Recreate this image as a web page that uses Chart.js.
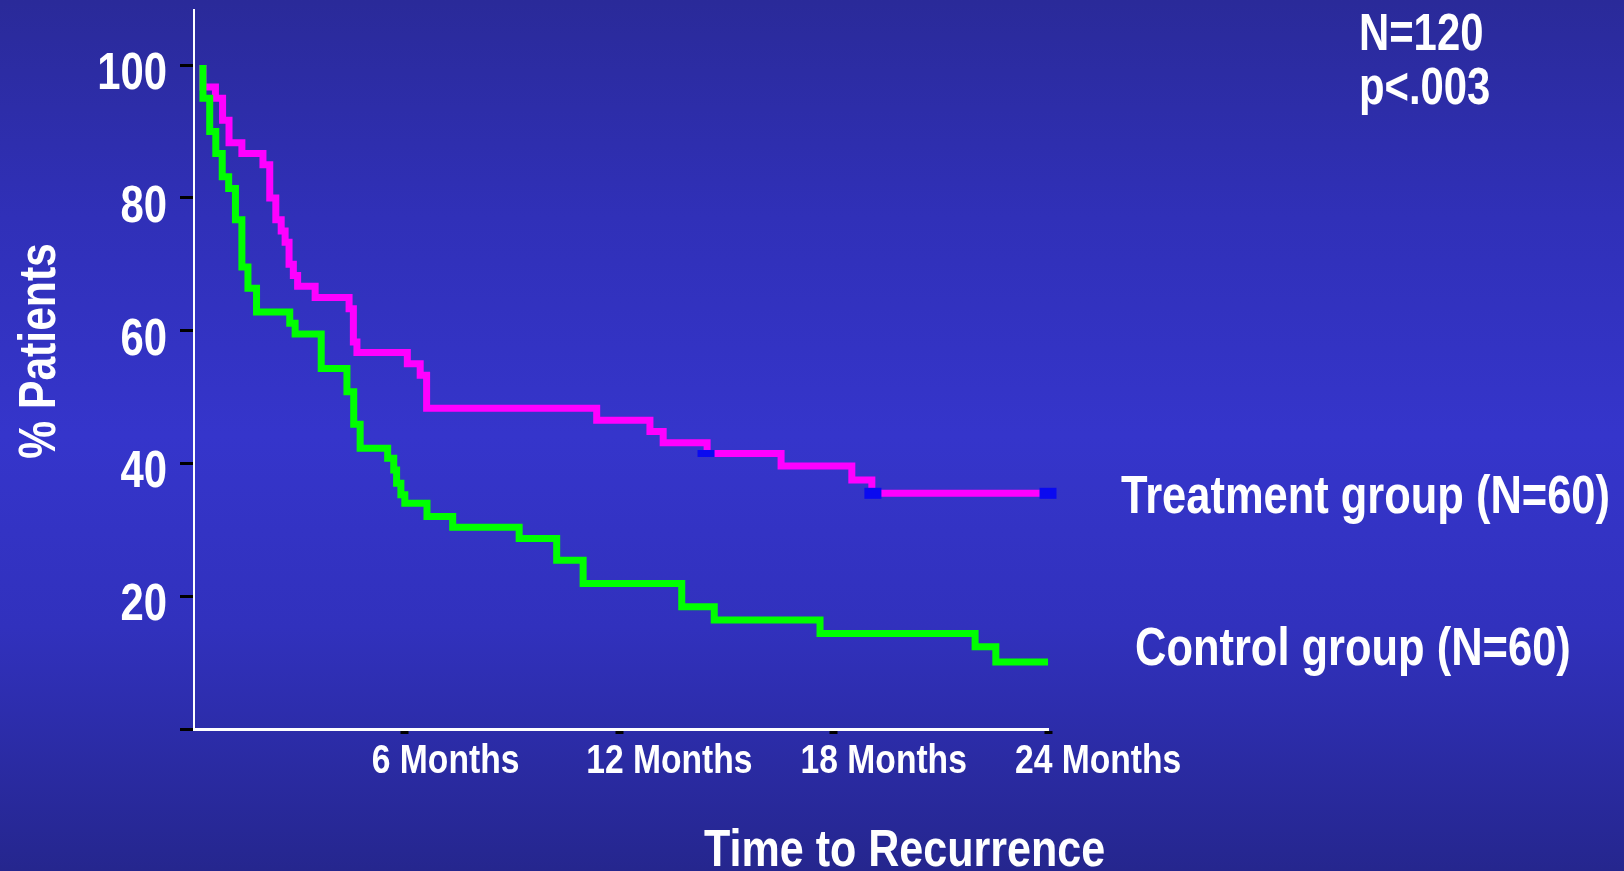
<!DOCTYPE html>
<html>
<head>
<meta charset="utf-8">
<script src="https://cdn.jsdelivr.net/npm/chart.js@4/dist/chart.umd.min.js"></script>
<style>
  html, body { margin: 0; padding: 0; overflow: hidden; }
  body {
    width: 1624px; height: 871px;
    background: linear-gradient(to bottom, #2a2a99 0%, #3030b8 25%, #3535cb 50%, #3131bd 72%, #25268e 100%);
  }
  #wrap { position: relative; width: 1624px; height: 871px; }
</style>
</head>
<body>
<div id="wrap"><canvas id="km"></canvas></div>
<script>
// months after start / % of patients still free of recurrence
const controlMonths = [0.35, 0.35, 0.54, 0.71, 0.89, 1.07, 1.26, 1.44, 1.61, 1.85, 2.78, 2.93, 3.66, 4.38, 4.57, 4.75, 5.52, 5.69, 5.77, 5.89, 6.0, 6.62, 7.34, 9.20, 10.25, 10.99, 13.75, 14.66, 17.62, 21.96, 22.54, 24.0];
const controlPct = [100, 95.0, 90.0, 86.7, 83.2, 81.4, 76.7, 69.6, 66.4, 62.8, 61.1, 59.5, 54.3, 50.8, 45.9, 42.3, 40.8, 39.0, 37.0, 35.3, 34.0, 32.0, 30.4, 28.7, 25.4, 21.9, 18.4, 16.4, 14.4, 12.4, 10.1, 10.1];

const treatMonths = [0.35, 0.35, 0.70, 0.90, 1.08, 1.44, 2.03, 2.22, 2.39, 2.54, 2.65, 2.76, 2.88, 3.00, 3.49, 4.44, 4.56, 4.66, 6.07, 6.43, 6.61, 11.37, 12.86, 13.23, 14.46, 16.53, 18.51, 19.07, 24.0];
const treatPct = [100, 96.7, 95.0, 91.7, 88.3, 86.7, 85.0, 80.0, 76.7, 75.0, 73.3, 70.0, 68.3, 66.7, 65.0, 63.3, 58.3, 56.7, 55.0, 53.3, 48.3, 46.5, 44.8, 43.1, 41.5, 39.6, 37.5, 35.5, 35.5];

// censored observations in the treatment group
const censorMonths = [14.43, 19.1, 24.0];
const censorPct = [41.5, 35.5, 35.5];

const xTickValues = [6, 12, 18, 24];
const xTickLabels = ['6 Months', '12 Months', '18 Months', '24 Months'];
const yTickValues = [0, 20, 40, 60, 80, 100];
const yTickLabels = ['', '20', '40', '60', '80', '100'];

const xTitle = 'Time to Recurrence';
const yTitle = '% Patients';
const statLines = ['N=120', 'p<.003'];
const treatLabel = 'Treatment group (N=60)';
const controlLabel = 'Control group (N=60)';

// no narrow face installed, so squeeze Liberation Sans Bold like Arial Narrow
const FONT = '"Liberation Sans", Arial, sans-serif';
const NARROW = 0.82;

const toPoints = (xs, ys) => xs.map((x, i) => ({ x: x, y: ys[i] }));

function narrowText(ctx, text, x, y, size, align, angle) {
    ctx.save();
    ctx.translate(x, y);
    if (angle) ctx.rotate(angle);
    ctx.scale(NARROW, 1);
    ctx.font = 'bold ' + size + 'px ' + FONT;
    ctx.textAlign = align;
    ctx.textBaseline = 'alphabetic';
    ctx.fillStyle = '#ffffff';
    ctx.fillText(text, 0, 0);
    ctx.restore();
}

const slideText = {
    id: 'slideText',
    afterDraw(chart) {
        const ctx = chart.ctx;
        const xs = chart.scales.x;
        const ys = chart.scales.y;

        yTickValues.forEach((v, i) => {
            narrowText(ctx, yTickLabels[i], 167, ys.getPixelForValue(v) + 24, 51, 'right');
        });
        xTickValues.forEach((v, i) => {
            narrowText(ctx, xTickLabels[i], xs.getPixelForValue(v) - 33, 773, 41, 'left');
        });

        narrowText(ctx, statLines[0], 1359, 50, 51, 'left');
        narrowText(ctx, statLines[1], 1359, 104, 51, 'left');
        narrowText(ctx, treatLabel, 1121, 513, 53, 'left');
        narrowText(ctx, controlLabel, 1135, 665, 53, 'left');
        narrowText(ctx, xTitle, 704, 866, 52.5, 'left');
        narrowText(ctx, yTitle, 55, 351, 52, 'center', -Math.PI / 2);
    }
};

const ctx = document.getElementById('km');
const kmChart = new Chart(ctx, {
    type: 'line',
    data: {
        datasets: [
            {
                label: 'censored',
                data: toPoints(censorMonths, censorPct),
                showLine: false,
                pointStyle: 'line',
                pointRadius: 8.5,
                pointBorderWidth: [7, 11, 11],
                pointBorderColor: '#0a0af0',
                pointBackgroundColor: '#0a0af0',
                clip: false,
                order: 0
            },
            {
                label: controlLabel,
                data: toPoints(controlMonths, controlPct),
                borderColor: '#00ff00',
                borderWidth: 7,
                stepped: true,
                pointRadius: 0,
                fill: false,
                order: 1
            },
            {
                label: treatLabel,
                data: toPoints(treatMonths, treatPct),
                borderColor: '#ff00ff',
                borderWidth: 7,
                stepped: true,
                pointRadius: 0,
                fill: false,
                order: 2
            }
        ]
    },
    options: {
        responsive: true,
        maintainAspectRatio: false,
        animation: false,
        layout: {
            autoPadding: false,
            padding: { left: 0, top: 10, right: 576, bottom: 0 }
        },
        plugins: {
            legend: { display: false },
            tooltip: { enabled: false },
            title: { display: false }
        },
        scales: {
            x: {
                type: 'linear',
                min: 0.1,
                max: 24,
                afterBuildTicks: (axis) => { axis.ticks = xTickValues.map(v => ({ value: v })); },
                afterFit: (axis) => {
                    axis.height = 142;
                    axis.paddingLeft = 0;
                    axis.paddingRight = 0;
                },
                grid: { drawOnChartArea: false, drawTicks: true, tickLength: 5, tickWidth: 8, tickColor: '#000000' },
                border: { display: true, color: '#ffffff', width: 3 },
                ticks: { display: false }
            },
            y: {
                type: 'linear',
                min: 0,
                max: 108.3,
                afterBuildTicks: (axis) => { axis.ticks = yTickValues.map(v => ({ value: v })); },
                afterFit: (axis) => {
                    axis.width = 194;
                    axis.paddingTop = 0;
                    axis.paddingBottom = 0;
                },
                grid: { drawOnChartArea: false, drawTicks: true, tickLength: 14, tickWidth: 3, tickColor: '#000000' },
                border: { display: true, color: '#ffffff', width: 2 },
                ticks: { display: false }
            }
        }
    },
    plugins: [slideText]
});
</script>
</body>
</html>
